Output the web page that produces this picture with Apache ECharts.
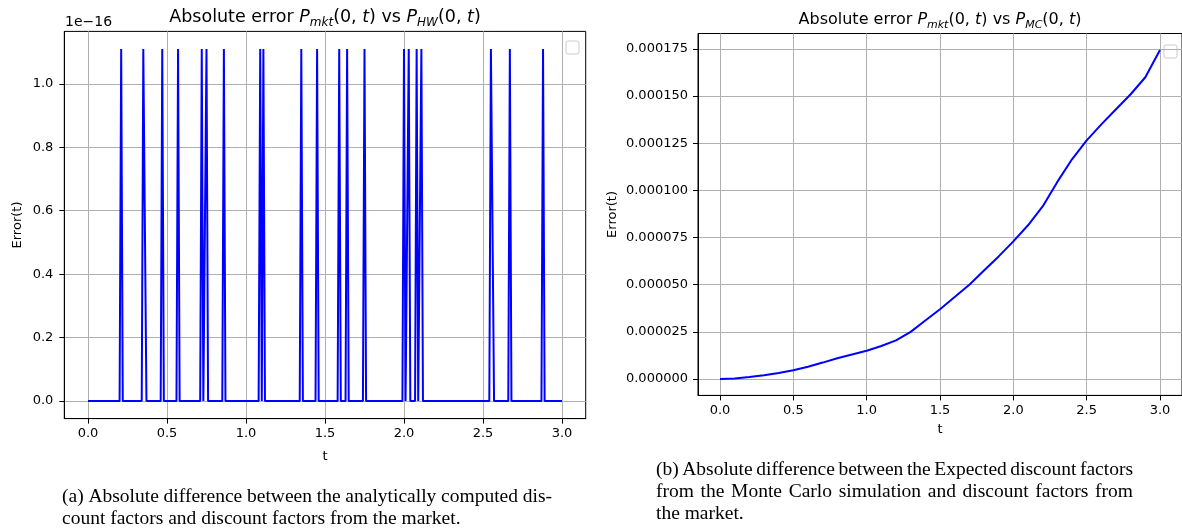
<!DOCTYPE html>
<html>
<head>
<meta charset="utf-8">
<script src="https://cdn.jsdelivr.net/npm/echarts@6/dist/echarts.min.js"></script>
<style>html,body{margin:0;padding:0;background:#fff}#c{width:1182px;height:531px}</style>
</head>
<body>
<div id="c"></div>
<script>
// ---- Data (left panel: values in units of 1e-16) ----
const spikeTimes = [0.21, 0.35, 0.36, 0.47, 0.57, 0.72, 0.75, 0.86, 1.09, 1.11, 1.35, 1.45, 1.59, 1.64, 1.75, 2.00, 2.03, 2.08, 2.11, 2.55, 2.56, 2.67, 2.88];
const spikeValue = 1.11;      // x 1e-16
const hwStep = 0.01;          // time grid spacing
const hwRange = [0, 3];
// ---- Data (right panel) ----
const mcT   = [0.0, 0.1, 0.2, 0.3, 0.4, 0.5, 0.6, 0.7, 0.8, 0.9, 1.0, 1.1, 1.2, 1.3, 1.4, 1.5, 1.6, 1.7, 1.8, 1.9, 2.0, 2.1, 2.2, 2.3, 2.4, 2.5, 2.6, 2.7, 2.8, 2.9, 3.0];
const mcErr = [0, 0.2e-6, 1.0e-6, 2.0e-6, 3.2e-6, 4.6e-6, 6.5e-6, 8.7e-6, 1.10e-5, 1.30e-5, 1.50e-5, 1.75e-5, 2.05e-5, 2.50e-5, 3.10e-5, 3.70e-5, 4.35e-5, 5.00e-5, 5.75e-5, 6.50e-5, 7.30e-5, 8.15e-5, 9.15e-5, 1.045e-4, 1.165e-4, 1.265e-4, 1.35e-4, 1.43e-4, 1.51e-4, 1.60e-4, 1.745e-4];
// ---- Ticks ----
const xTicks = [0.0, 0.5, 1.0, 1.5, 2.0, 2.5, 3.0];
const leftYTicks = [0.0, 0.2, 0.4, 0.6, 0.8, 1.0];
const rightYTicks = [0, 0.000025, 0.00005, 0.000075, 0.0001, 0.000125, 0.00015, 0.000175];

// Build left series: zero everywhere except at spike grid points
const spikeSet = new Set(spikeTimes.map(t => Math.round(t / hwStep)));
const keyIdx = new Set([Math.round(hwRange[0] / hwStep), Math.round(hwRange[1] / hwStep)]);
spikeSet.forEach(k => { keyIdx.add(k - 1); keyIdx.add(k); keyIdx.add(k + 1); });
const hwData = Array.from(keyIdx).sort((a, b) => a - b).map(k => [+(k * hwStep).toFixed(2), spikeSet.has(k) ? spikeValue : 0]);
const mcData = mcT.map((t, i) => [t, mcErr[i]]);

const SANS = 'DejaVu Sans';
const SERIF = 'Liberation Serif';

function axisCommon() {
  return {
    axisLine: { show: true, onZero: false, lineStyle: { color: '#000', width: 1 } },
    splitLine: { show: true, lineStyle: { color: '#b0b0b0', width: 1 } },
    nameTextStyle: { fontFamily: SANS, fontSize: 13, color: '#000' }
  };
}

const chart = echarts.init(document.getElementById('c'), null, { renderer: 'canvas' });

// Caption helpers (justified lines)
const mctx = document.createElement('canvas').getContext('2d');
const capFont = 19.5;
function capLine(text, x, y, width, justify) {
  const st = { fontFamily: SERIF, fontSize: capFont, fill: '#000', verticalAlign: 'middle', align: 'left' };
  if (!justify) return [{ type: 'text', x: x, y: y, style: Object.assign({ text: text }, st) }];
  mctx.font = capFont + 'px "' + SERIF + '"';
  const words = text.split(' ');
  const ws = words.map(w => mctx.measureText(w).width);
  const tot = ws.reduce((a, b) => a + b, 0);
  const gap = (width - tot) / (words.length - 1);
  let cx = x;
  return words.map((w, i) => { const el = { type: 'text', x: cx, y: y, style: Object.assign({ text: w }, st) }; cx += ws[i] + gap; return el; });
}

function titleRich(fs) {
  const sub = Math.round(fs * 0.7);
  return {
    n: { fontFamily: SANS, fontSize: fs, lineHeight: fs + 6, verticalAlign: 'middle', color: '#000' },
    i: { fontFamily: SANS, fontSize: fs, lineHeight: fs + 6, verticalAlign: 'middle', fontStyle: 'italic', color: '#000' },
    s: { fontFamily: SANS, fontSize: sub, lineHeight: sub, verticalAlign: 'bottom', fontStyle: 'italic', color: '#000' }
  };
}
function titleEl(text, x, y, fs) {
  return { type: 'text', x: x, y: y, style: { text: text, rich: titleRich(fs), align: 'center', verticalAlign: 'middle', fill: '#000' } };
}

let graphics = [
  titleEl('{n|Absolute error }{i|P}{s|mkt}{n|(0, }{i|t}{n|) vs }{i|P}{s|HW}{n|(0, }{i|t}{n|)}', 325, 17, 17.5),
  titleEl('{n|Absolute error }{i|P}{s|mkt}{n|(0, }{i|t}{n|) vs }{i|P}{s|MC}{n|(0, }{i|t}{n|)}', 940, 20, 16),
  { type: 'text', x: 65, y: 22, style: { text: '1e\u221216', fontFamily: SANS, fontSize: 14, fill: '#000', verticalAlign: 'middle' } },
  { type: 'rect', shape: { x: 566, y: 41, width: 13, height: 13, r: 2 }, style: { fill: '#fff', stroke: '#cccccc', lineWidth: 1 } },
  { type: 'rect', shape: { x: 1164, y: 45, width: 13, height: 13, r: 2 }, style: { fill: '#fff', stroke: '#cccccc', lineWidth: 1 } }
];
graphics = graphics
  .concat(capLine('(a) Absolute difference between the analytically computed dis-', 62, 497, 490, true))
  .concat(capLine('count factors and discount factors from the market.', 62, 519, 490, false))
  .concat(capLine('(b) Absolute difference between the Expected discount factors', 656, 470, 477, true))
  .concat(capLine('from the Monte Carlo simulation and discount factors from', 656, 492, 477, true))
  .concat(capLine('the market.', 656, 514, 477, false));

function xAxisOf(idx, gap) {
  return Object.assign(axisCommon(), {
    type: 'value', gridIndex: idx, min: -0.15, max: 3.15, name: 't', nameLocation: 'middle', nameGap: gap,
    axisTick: { show: true, length: 5, customValues: xTicks, lineStyle: { color: '#000' } },
    axisLabel: { customValues: xTicks, formatter: v => v.toFixed(1), fontFamily: SANS, fontSize: 13, color: '#000', margin: 9 }
  });
}

const option = {
  animation: false,
  backgroundColor: '#fff',
  grid: [
    { left: 64.3, right: 1182 - 585.7, top: 31.4, bottom: 531 - 418.6, show: true, borderColor: '#000', borderWidth: 1, backgroundColor: 'transparent' },
    { left: 698, right: 0, top: 33.5, bottom: 531 - 395.4, show: true, borderColor: '#000', borderWidth: 1, backgroundColor: 'transparent' }
  ],
  xAxis: [xAxisOf(0, 32), xAxisOf(1, 28)],
  yAxis: [
    Object.assign(axisCommon(), {
      type: 'value', gridIndex: 0, min: -0.0555, max: 1.1655, name: 'Error(t)', nameLocation: 'middle', nameGap: 40,
      axisTick: { show: true, length: 5, customValues: leftYTicks, lineStyle: { color: '#000' } },
      axisLabel: { customValues: leftYTicks, formatter: v => v.toFixed(1), fontFamily: SANS, fontSize: 13, color: '#000', margin: 11 }
    }),
    Object.assign(axisCommon(), {
      type: 'value', gridIndex: 1, min: -0.0000087, max: 0.0001832, name: 'Error(t)', nameLocation: 'middle', nameGap: 79,
      axisTick: { show: true, length: 5, customValues: rightYTicks, lineStyle: { color: '#000' } },
      axisLabel: { customValues: rightYTicks, formatter: v => v.toFixed(6), fontFamily: SANS, fontSize: 13, color: '#000', margin: 10 }
    })
  ],
  series: [
    { type: 'line', xAxisIndex: 0, yAxisIndex: 0, data: hwData, showSymbol: false, lineStyle: { color: '#0000ff', width: 2 }, itemStyle: { color: '#0000ff' } },
    { type: 'line', xAxisIndex: 1, yAxisIndex: 1, data: mcData, showSymbol: false, lineStyle: { color: '#0000ff', width: 2 }, itemStyle: { color: '#0000ff' } }
  ],
  graphic: graphics
};
chart.setOption(option);
</script>
</body>
</html>
